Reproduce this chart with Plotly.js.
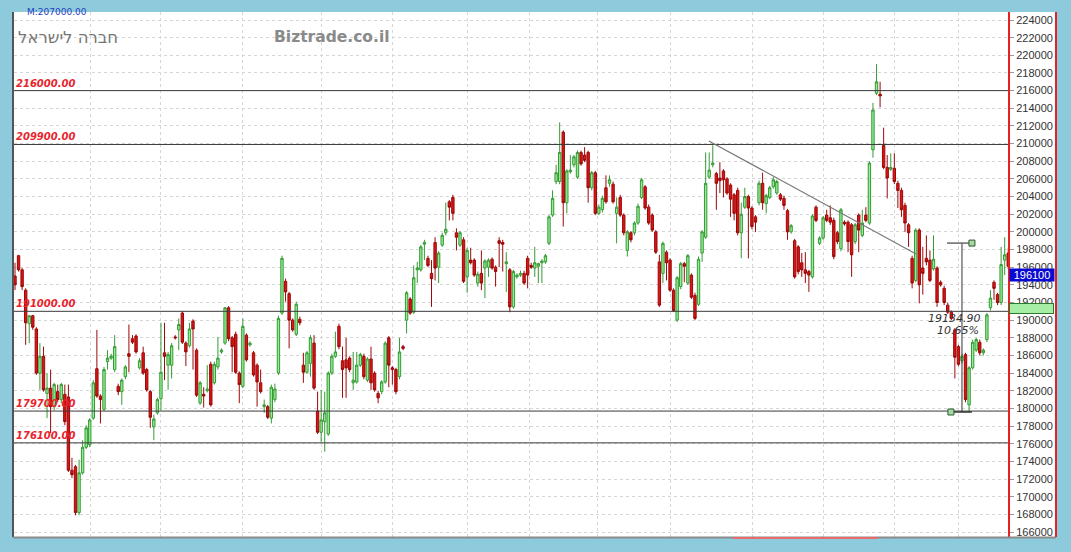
<!DOCTYPE html>
<html><head><meta charset="utf-8">
<script src="https://cdn.plot.ly/plotly-3.0.1.min.js"></script>
<style>html,body{margin:0;padding:0;background:#8dcadc;}#chart{width:1071px;height:552px;}</style>
</head><body><div id="chart"></div>
<script>
// OHLC series
const openV = [195000,197300,195700,193400,189600,190500,189000,184000,185900,181700,
182300,180200,181900,181000,181600,181300,173000,173400,168200,172700,
175600,175900,178900,184500,181400,179900,185300,185700,184400,182500,
181900,183600,186200,187900,188200,184600,186300,184400,181900,177900,
179500,181100,186300,184900,184900,188100,188900,190800,187400,187100,
189900,186600,180600,181600,182000,185000,182900,184700,186400,187400,
191400,188000,188400,184000,182500,188300,187200,186300,184900,182900,
180200,180200,178900,181000,184000,190800,194400,193000,190000,188400,
190100,184900,184100,185100,187400,179700,177300,178500,177100,184000,
185900,189300,185400,185500,185700,182900,183000,184900,185900,183200,
185600,184000,181700,181900,183000,188000,184600,184400,183600,187000,
190000,192400,190900,195700,195700,198600,197000,195300,198800,196000,
198500,199900,203400,203900,199900,198500,199100,194900,196800,196800,
194200,195300,195900,196000,196900,196000,199000,198800,196400,195700,
191500,194900,195100,195300,197000,196200,195900,196100,196500,196600,
198700,201900,205700,205700,211300,203300,206800,207600,206200,209000,
208700,209000,205000,206700,202100,202500,205000,205500,205400,202100,
203900,201900,197900,199900,199900,201000,203900,205100,202800,201900,
200000,196600,195300,197700,196800,193400,190000,193800,196400,194200,
195100,192800,191800,197600,199400,206200,207600,206600,206100,206900,
206000,205300,204200,204700,199900,202800,204000,202700,201700,203300,
205500,203200,203900,205100,204400,204200,203800,202400,200000,199000,
198300,196500,195700,195500,194900,202800,198700,199300,201900,201600,
201300,199900,198100,201100,201100,200800,198900,201900,199600,201900,
201000,209300,215700,215600,209800,207300,207100,207200,205500,204700,
203000,200800,197000,194500,200200,195900,197000,196800,195800,195900,
194300,193600,191700,190900,188900,187000,185400,186100,180400,184600,
186600,187500,186300,187800,191400,194300,192900,192000,196800,197600];
const highV = [196500,197400,195900,193600,190500,190600,189200,187400,187000,184000,
184400,182900,182700,182900,182700,182700,174400,173600,174200,176400,
178100,178900,183200,188900,181600,184700,186600,186200,188300,182800,
183400,184900,189500,188300,188400,185700,187000,184600,182100,179300,
181200,189700,189700,186400,187400,188300,190200,191000,187600,189700,
190100,186800,183100,182400,184900,185300,185300,188100,186800,191500,
191600,188200,188700,184200,190200,188500,187600,186500,185100,184400,
181000,180400,182700,182800,190500,197300,194700,193200,190200,192100,
190400,186300,186500,188300,188300,181900,182100,181900,184200,186200,
188700,189600,187000,188000,185900,186400,186400,186300,186200,185800,
187000,184200,182000,183200,187600,188200,184800,184600,188000,187200,
193300,192600,196200,196600,198500,199100,197300,196800,199400,197800,
199900,203300,203600,204200,200400,200100,199400,198200,198200,197000,
195500,197900,196900,197000,197100,196200,199400,199100,197700,195900,
195700,195300,195600,195600,197300,196500,198300,196500,196900,197500,
201900,204700,207600,212400,211500,207100,208700,208700,209200,209200,
209600,209200,206900,206900,203100,204100,206400,206400,205700,203900,
204200,202100,200200,200100,201200,203200,206100,205300,203100,202100,
200200,197400,198900,197900,197000,193600,195000,196600,196600,197500,
195300,193100,197200,200200,209000,209000,209800,206800,207900,207100,
206200,205500,204400,205000,203300,205000,204200,202900,201900,205800,
206700,204300,205200,206200,205900,204400,204100,202600,200900,199200,
198500,197600,197700,195700,202000,203000,199500,201800,202500,203000,
201600,200100,202700,201300,201300,201000,201000,202100,202500,202800,
208000,214600,219000,217000,211800,208700,208900,208900,205800,205000,
203300,201000,197300,200400,200400,198300,199600,197900,199600,196100,
194500,193900,192000,191100,189100,187200,186200,186300,184800,187800,
188000,187800,186800,190800,193400,194500,193100,198300,199400,198200];
const lowV = [193400,195500,193400,187200,187400,188900,183800,182100,181900,178900,
177200,179800,180700,180600,178100,172800,172100,167900,167900,172500,
175400,175600,178700,181200,178300,179700,184400,185500,184100,181500,
180400,183300,184100,187300,186200,184400,183800,181900,177800,176400,
179300,179800,183200,182100,183400,187800,186600,187300,184800,186900,
184400,181300,180400,180100,181800,180200,182700,184400,186200,187200,
187600,184100,183900,180600,182300,185300,187000,183600,180200,181700,
179500,178800,178300,180700,183800,190600,192100,186800,188700,188200,
189400,182900,183900,183600,182100,177100,176200,175100,176900,183800,
185700,186700,181200,181200,184100,182100,182800,184700,183300,183000,
182100,181900,180600,181600,182800,182400,182700,181600,183300,186600,
188500,190600,190700,194200,195500,196800,196000,191500,194500,194200,
198300,199600,201300,201300,197900,198300,194200,193100,196300,194900,
193800,193400,192500,194900,195700,193800,196000,195500,193200,190900,
191300,194700,194900,194000,193600,195800,194900,194200,194200,196400,
198500,201700,205400,205400,200600,202100,206600,207300,206000,207500,
207900,203300,204700,201900,201900,202200,203200,205100,203200,198700,
201700,199600,197200,198800,199600,200800,203700,202500,200800,200000,
197500,191500,194200,194500,193200,190900,189800,193500,194300,194000,
192400,190000,191600,196600,199200,206000,207300,202500,204400,203900,
204200,201700,201300,199600,197000,202600,197000,200300,200000,203000,
202500,202100,203700,204900,204200,203500,202500,199100,199800,194700,
195200,194900,194200,193200,194700,201100,198500,199100,201100,200800,
196900,198600,197800,200700,197700,194900,198600,197700,199400,201100,
200800,208400,215500,214100,207100,203800,206900,205400,202700,201700,
200000,198300,193600,194300,191900,192900,196200,194300,195600,191500,
193800,191700,190700,190000,183400,184800,185100,180700,179600,184400,
186400,186000,186000,187500,191100,192300,191700,191700,195100,195800];
const closeV = [194000,195700,193800,189700,190500,189200,184000,185900,182100,182300,
180200,182700,181000,182700,178500,173000,172500,168200,172700,175600,
177800,178700,182900,181400,181000,184400,185700,185900,187000,181900,
183200,184700,185900,187500,186400,185400,184000,182100,179000,178800,
181000,184100,185900,186100,187100,188000,189500,187500,186400,189000,
189000,181500,182900,181400,182200,180400,185000,185700,186600,191400,
187900,187000,184100,182700,189300,185500,187400,183800,183000,181900,
180400,179000,182400,182200,190200,197000,193200,190000,188900,191800,
189700,184100,186300,188000,182300,177300,178700,179500,184000,185900,
186400,187000,184400,184600,184400,183200,184900,186100,183600,185600,
182900,182100,181200,183000,187400,184900,184400,181900,186400,186800,
193100,190800,194800,195900,198300,198800,196200,194700,195900,197600,
199600,200300,202800,202100,199400,199900,194400,197900,196500,195100,
195200,194200,196700,196800,195900,195500,198700,198600,196600,191500,
195500,195100,195300,194200,195100,196000,196500,196400,196700,197300,
201700,203800,206700,209000,203300,206900,207000,208500,209000,207700,
208100,205000,206700,202100,202800,203800,203400,205900,203400,202800,
201900,199900,200000,199100,201000,202900,205900,202700,201000,200200,
197700,191700,198700,196500,193400,191100,194800,196400,196100,197300,
192600,190200,196900,200000,205500,207000,207800,205500,205800,205900,
204400,203700,202100,199900,202000,204000,202700,200600,201100,205500,
203300,204100,205000,205900,205700,203700,203000,200000,200700,194900,
195500,195700,195300,195100,201800,201300,199300,201600,201300,201100,
197200,198900,202500,200900,198900,197400,200800,200200,201000,201300,
207800,213800,217000,215400,207300,206100,207300,205700,204700,202500,
201000,199900,194200,200200,194000,195300,196600,194500,196900,192000,
194000,192000,190900,190200,185800,185000,185900,181000,184600,187500,
187800,186300,186600,190600,192500,193600,192000,196300,197400,196100];

const dayIndex = openV.map((_, i) => i + 1);
const levels = [216000, 209900, 191000, 179700, 176100];
const levelLabels = ['216000.00', '209900.00', '191000.00', '179700.00', '176100.00'];
const monthBreaks = [22.07, 41.73, 65.04, 86.96, 106.9, 127.97, 145.66, 164.76, 184.99, 208.02, 227.97, 247.92, 265.89];
const trendLine = {x: [195.9, 254.1], y: [210300, 197500]};
const measure = {x: 267.0, top: 198730, bottom: 179595, topEnd: 269.8, bottomStart: 263.9, text: '19134.90', pct: '10.65%'};
const lastPrice = 196100;
const maxLabel = 'M:207000.00';
const companyName = 'חברה לישראל';
const siteName = 'Biztrade.co.il';

const shapes = [];
// white label panel to the right of the plot
shapes.push({type:'rect', xref:'paper', yref:'paper', x0:1, x1:1.0483, y0:0, y1:1, fillcolor:'#ffffff', line:{width:0}, layer:'below'});
// borders
shapes.push({type:'line', xref:'paper', yref:'paper', x0:-0.001, x1:-0.001, y0:0, y1:1, line:{color:'#555', width:2}});
shapes.push({type:'line', xref:'paper', yref:'paper', x0:-0.001, x1:1.0483, y0:-0.001, y1:-0.001, line:{color:'#8a8a8a', width:2}});
shapes.push({type:'line', xref:'paper', yref:'paper', x0:0.7233, x1:0.8692, y0:-0.002, y1:-0.002, line:{color:'#e86a6a', width:2}});
shapes.push({type:'line', xref:'paper', yref:'paper', x0:1.0483, x1:1.0483, y0:0, y1:1, line:{color:'#e82020', width:2}});
levels.forEach(v => shapes.push({type:'line', xref:'paper', yref:'y', x0:0, x1:1, y0:v, y1:v, line:{color:'#3a3a3a', width:1}, layer:'above'}));
shapes.push({type:'line', xref:'x', yref:'y', x0:trendLine.x[0], x1:trendLine.x[1], y0:trendLine.y[0], y1:trendLine.y[1], line:{color:'#777', width:1.2}});
shapes.push({type:'line', x0:measure.x, x1:measure.x, y0:measure.top, y1:measure.bottom, line:{color:'#333', width:1}});
shapes.push({type:'line', x0:measure.x - 4.2, x1:measure.topEnd, y0:measure.top, y1:measure.top, line:{color:'#666', width:1.5}});
shapes.push({type:'line', x0:measure.bottomStart, x1:measure.topEnd, y0:measure.bottom, y1:measure.bottom, line:{color:'#333', width:1.5}});
[[measure.topEnd, measure.top], [measure.bottomStart, measure.bottom]].forEach(p => shapes.push({
  type:'rect', xsizemode:'pixel', ysizemode:'pixel', xanchor:p[0], yanchor:p[1], x0:-3, x1:3, y0:-3, y1:3,
  fillcolor:'#a6d8a6', line:{color:'#2d5a2d', width:1}}));

const annotations = [];
levels.forEach((v, i) => annotations.push({xref:'paper', yref:'y', x:0, y:v, xanchor:'left', yanchor:'bottom', yshift:0,
  text:levelLabels[i], showarrow:false, font:{family:'DejaVu Sans', size:10, color:'#e8242c', weight:700, style:'italic'}}));
annotations.push({x:measure.x - 2, y:190200, text:measure.text, showarrow:false, xanchor:'center', yanchor:'middle',
  font:{family:'DejaVu Sans', size:11, color:'#333', style:'italic'}});
annotations.push({x:measure.x - 1.2, y:188800, text:measure.pct, showarrow:false, xanchor:'center', yanchor:'middle',
  font:{family:'DejaVu Sans', size:11, color:'#333', style:'italic'}});
annotations.push({xref:'paper', yref:'y', x:1, xshift:1, y:lastPrice, yshift:-9, xanchor:'left', yanchor:'middle',
  text:String(lastPrice), showarrow:false, bgcolor:'#0a0ad2', width:44, height:12, borderpad:0,
  font:{family:'Liberation Sans', size:11, color:'#ffffff'}});
annotations.push({xref:'paper', yref:'y', x:1, xshift:1, y:levels[2], yshift:2.5, xanchor:'left', yanchor:'middle',
  text:' ', showarrow:false, bgcolor:'#a6eea6', bordercolor:'#2a7a2a', borderwidth:1, width:43, height:9, borderpad:0,
  font:{size:8}});
annotations.push({xref:'paper', yref:'paper', x:0.011, y:1.0, xanchor:'left', yanchor:'middle', text:maxLabel, showarrow:false,
  font:{family:'DejaVu Sans', size:9, color:'#2a3fc0'}});
annotations.push({xref:'paper', yref:'paper', x:0.002, y:0.9505, xanchor:'left', yanchor:'middle', text:companyName, showarrow:false,
  font:{family:'DejaVu Sans', size:16.5, color:'#777'}});
annotations.push({xref:'paper', yref:'paper', x:0.2596, y:0.9524, xanchor:'left', yanchor:'middle', text:siteName, showarrow:false,
  font:{family:'DejaVu Sans', size:15.5, color:'#8a8a8a', weight:700}});

const trace = {
  type:'candlestick', x:dayIndex, open:openV, high:highV, low:lowV, close:closeV,
  increasing:{line:{color:'#359a35', width:1}, fillcolor:'#94ec94'},
  decreasing:{line:{color:'#9a0808', width:1}, fillcolor:'#dc1414'},
  whiskerwidth:0, hoverinfo:'skip', showlegend:false
};

const layout = {
  width:1071, height:552,
  margin:{l:14, r:63, t:12, b:15, pad:0},
  paper_bgcolor:'#8dcadc', plot_bgcolor:'#ffffff',
  showlegend:false, boxgap:0.05,
  xaxis:{range:[0.72, 279.93], tickvals:monthBreaks, showticklabels:false, ticks:'', showgrid:true,
    gridcolor:'#d6d6d6', griddash:'dot', gridwidth:1, zeroline:false, showline:false, rangeslider:{visible:false}, fixedrange:true},
  yaxis:{range:[165435, 224906], side:'right', dtick:2000, tick0:0, tickformat:'d', showgrid:true,
    gridcolor:'#d6d6d6', griddash:'dot', gridwidth:1, zeroline:false, showline:true, linecolor:'#e82020', linewidth:2,
    ticks:'outside', ticklen:4, tickcolor:'#999', tickfont:{family:'Liberation Sans', size:11, color:'#333'}, fixedrange:true},
  shapes:shapes, annotations:annotations
};

Plotly.newPlot('chart', [trace], layout, {displayModeBar:false, staticPlot:true});
</script>
</body></html>
